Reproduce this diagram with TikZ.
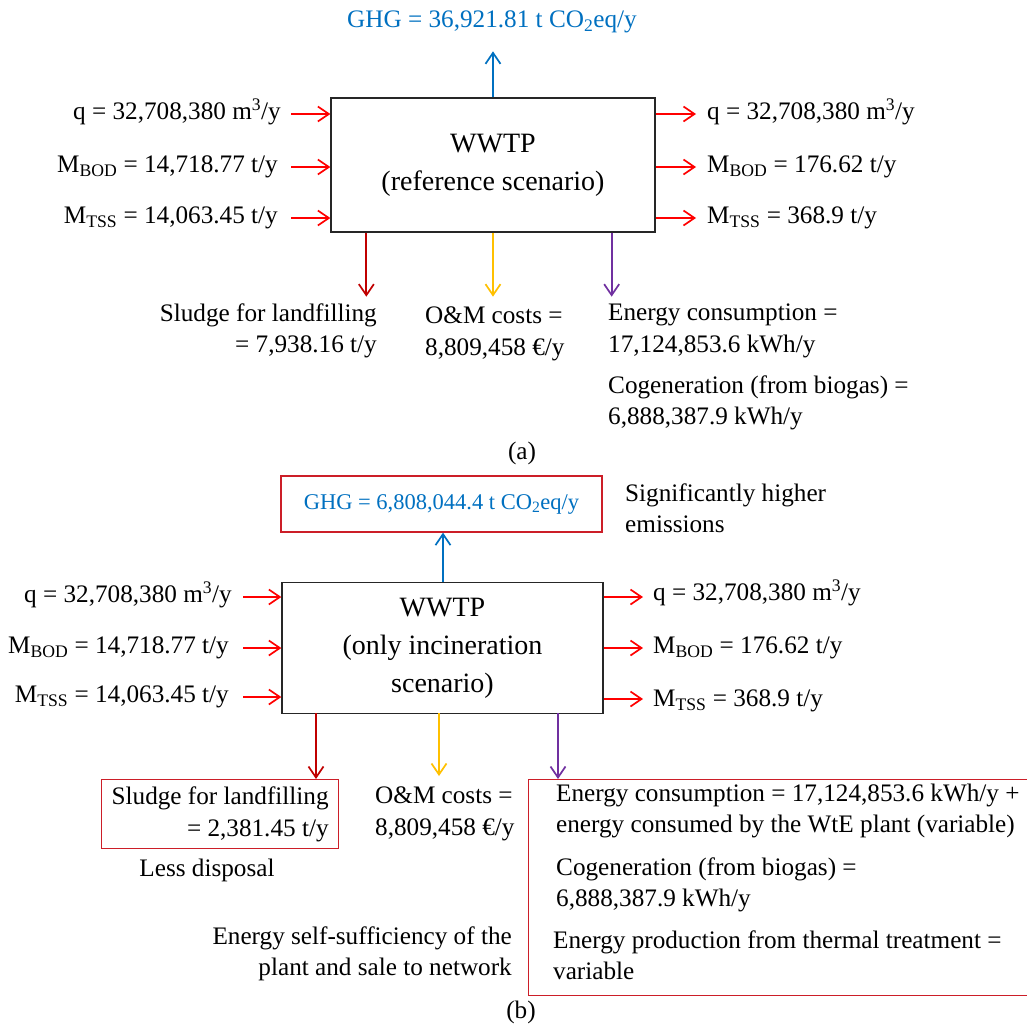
\documentclass[tikz,border=0pt]{standalone}
\usepackage{fontspec}
\setmainfont{Liberation Serif}
\usetikzlibrary{arrows.meta,calc}
\definecolor{ghgblue}{RGB}{0,112,192}
\definecolor{darkred}{RGB}{192,0,0}
\definecolor{amber}{RGB}{255,192,0}
\definecolor{purp}{RGB}{112,48,160}
\definecolor{boxred}{RGB}{204,30,40}
\begin{document}
\begin{tikzpicture}[x=1pt,y=-1pt,
  txt/.style={inner sep=0pt, font=\fontsize{25.2}{31.5}\selectfont},
  plant/.style={draw=black!85, line width=1.3pt, inner sep=0pt, align=center,
                font=\fontsize{28}{38}\selectfont},
  redbox/.style={draw=boxred, line width=1.3pt},
  flow/.style={line width=1.8pt, -{Straight Barb[length=11pt,width=15pt,line width=1.7pt]}}]
\useasboundingbox (0,0) rectangle (1027,1028);

% ---------------- panel (a) ----------------
\node[plant, minimum width=324pt, minimum height=134pt] (wa) at (493,165) {WWTP\\(reference scenario)};
\node[txt, text=ghgblue] (ghga) at (492,22) {GHG = 36,921.81 t CO\textsubscript{2}eq/y};
\draw[flow, ghgblue] (wa.north) -- ++(0,-46);

\node[txt, anchor=east] (qa) at (281,112) {q = 32,708,380 m\textsuperscript{3}/y};
\node[txt, anchor=east] (boda) at (278,167) {M\textsubscript{BOD} = 14,718.77 t/y};
\node[txt, anchor=east] (tssa) at (278,218) {M\textsubscript{TSS} = 14,063.45 t/y};
\foreach \n/\y in {qa/114,boda/167,tssa/218}{
  \coordinate (s\n) at (291,\y);
  \draw[flow, red] (s\n) -- (s\n -| wa.west);
}
\node[txt, anchor=west] (qa2) at (707,112) {q = 32,708,380 m\textsuperscript{3}/y};
\node[txt, anchor=west] (boda2) at (707,167) {M\textsubscript{BOD} = 176.62 t/y};
\node[txt, anchor=west] (tssa2) at (707,218) {M\textsubscript{TSS} = 368.9 t/y};
\foreach \n/\y in {qa2/114,boda2/167,tssa2/218}{
  \coordinate (e\n) at (696,\y);
  \draw[flow, red] (e\n -| wa.east) -- (e\n);
}

\coordinate (ra) at ($(wa.south west)+(36,0)$);
\coordinate (pa) at ($(wa.south east)+(-44,0)$);
\draw[flow, darkred] (ra) -- ++(0,64);
\draw[flow, amber] (wa.south) -- ++(0,64);
\draw[flow, purp] (pa) -- ++(0,64);

\node[txt, align=right, anchor=east] (sla) at (377,331) {Sludge for landfilling\\= 7,938.16 t/y};
\node[txt, align=left, anchor=west] (oma) at (425,334) {O\&M costs =\\8,809,458 €/y};
\node[txt, align=left, anchor=west] (ena) at (608,331) {Energy consumption =\\17,124,853.6 kWh/y};
\node[txt, align=left, anchor=west] (coa) at (608,403) {Cogeneration (from biogas) =\\6,888,387.9 kWh/y};
\node[txt] (capa) at (522,453) {(a)};

% ---------------- panel (b) ----------------
\node[plant, minimum width=321pt, minimum height=131pt] (wb) at (442.5,648) {WWTP\\(only incineration\\scenario)};
\node[redbox, inner sep=0pt, minimum width=321pt, minimum height=56pt, text=ghgblue,
      font=\fontsize{22.5}{28}\selectfont] (ghgb) at (441.5,504) {GHG = 6,808,044.4 t CO\textsubscript{2}eq/y};
\coordinate (bb) at (443,582);
\draw[flow, ghgblue] (bb) -- (bb |- ghgb.south);
\node[txt, align=left, anchor=west] (sigb) at (625,508) {Significantly higher\\emissions};

\node[txt, anchor=east] (qb) at (232,595) {q = 32,708,380 m\textsuperscript{3}/y};
\node[txt, anchor=east] (bodb) at (229,648) {M\textsubscript{BOD} = 14,718.77 t/y};
\node[txt, anchor=east] (tssb) at (229,697) {M\textsubscript{TSS} = 14,063.45 t/y};
\foreach \n/\y in {qb/597,bodb/648,tssb/697}{
  \coordinate (s\n) at (243,\y);
  \draw[flow, red] (s\n) -- (s\n -| wb.west);
}
\node[txt, anchor=west] (qb2) at (653,593) {q = 32,708,380 m\textsuperscript{3}/y};
\node[txt, anchor=west] (bodb2) at (653,648) {M\textsubscript{BOD} = 176.62 t/y};
\node[txt, anchor=west] (tssb2) at (653,701) {M\textsubscript{TSS} = 368.9 t/y};
\foreach \n/\y in {qb2/597,bodb2/648,tssb2/699}{
  \coordinate (e\n) at (643,\y);
  \draw[flow, red] (e\n -| wb.east) -- (e\n);
}

\node[redbox, txt, align=right, minimum width=237pt, minimum height=69pt, anchor=north west] (slb) at (101,779) {Sludge for landfilling\\= 2,381.45 t/y};
\node[txt] (lessb) at (207,870) {Less disposal};
\node[txt, align=left, anchor=west] (omb) at (375,814) {O\&M costs =\\8,809,458 €/y};
\node[txt, align=right, anchor=east] (selfb) at (512,954) {Energy self-sufficiency of the\\plant and sale to network};

\node[redbox, inner sep=0pt, minimum width=560pt, minimum height=216pt, anchor=north west] (enb) at (528,779) {};
\node[txt, align=left, anchor=west] (enb1) at (556,811) {Energy consumption = 17,124,853.6 kWh/y +\\energy consumed by the WtE plant (variable)};
\node[txt, align=left, anchor=west] (cob) at (556,885) {Cogeneration (from biogas) =\\6,888,387.9 kWh/y};
\node[txt, align=left, anchor=west] (prb) at (553,955) {Energy production from thermal treatment =\\variable};

\coordinate (rb) at (316,713);
\coordinate (yb) at (439,713);
\coordinate (pb) at (558,713);
\draw[flow, darkred] (rb) -- (rb |- slb.north);
\draw[flow, amber] (yb) -- ++(0,63);
\draw[flow, purp] (pb) -- (pb |- enb.north);

\node[txt] (capb) at (521,1012) {(b)};
\end{tikzpicture}
\end{document}
